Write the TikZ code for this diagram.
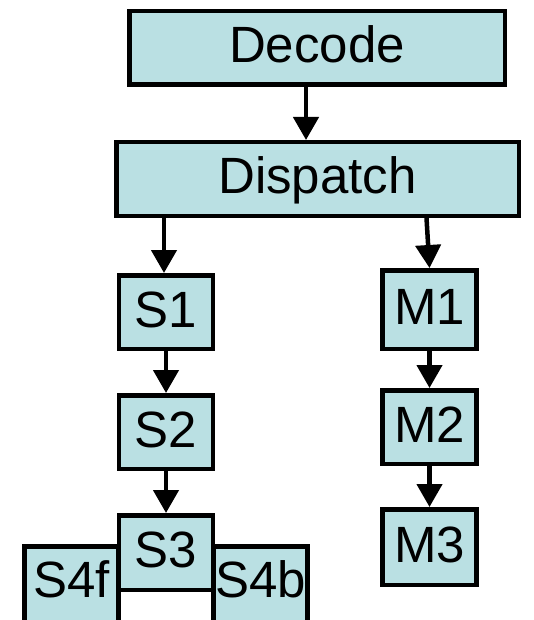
\documentclass[tikz,border=0pt]{standalone}
\usepackage{fontspec}
\setmainfont{Liberation Sans}
\usetikzlibrary{arrows.meta}
\definecolor{boxfill}{HTML}{BAE0E3}
\begin{document}
\begin{tikzpicture}[x=1pt,y=1pt,
  stage/.style={draw=black, fill=boxfill, line width=4.5pt, inner sep=0pt,
    text height=30pt, text depth=0pt, font=\fontsize{51}{60}\selectfont,
    minimum width=94pt, minimum height=73.5pt},
  flow/.style={line width=4.5pt, -{Triangle[width=25pt,length=23pt]}}]
\clip (0,0) rectangle (533,-620);
\fill[white] (0,0) rectangle (533,-620);

% front end
\node[stage, minimum width=375.5pt] (Decode) at (317,-48) {Decode};
\node[stage, minimum width=402.5pt] (Dispatch) at (317.5,-179) {Dispatch};

% scalar pipe
\node[stage] (S1) at (166,-312) {S1};
\node[stage] (S2) at (166,-432) {S2};
\node[stage, minimum height=74.5pt] (S3) at (166,-552.5) {S3};
% the two back-end stages run past the lower edge
\node[stage, anchor=base, text height=43pt, text depth=40.3pt, minimum height=100pt] (S4f) at (71.5,-597.6) {S4f};
\node[stage, anchor=base, text height=43pt, text depth=40.3pt, minimum height=100pt] (S4b) at (260.5,-597.6) {S4b};

% memory pipe
\node[stage, minimum height=78.5pt] (M1) at (429.5,-309.5) {M1};
\node[stage] (M2) at (429.5,-427) {M2};
\node[stage, minimum height=75.5pt] (M3) at (429.5,-547) {M3};

% connectors
\draw[flow] ([xshift=-11pt]Decode.south) -- ([xshift=-11.5pt]Dispatch.north);
\draw[flow] ([xshift=-2pt]Dispatch.south -| S1.north) -- ([xshift=-2pt]S1.north);
\draw[flow] ([xshift=-3pt]Dispatch.south -| M1.north) -- (M1.north);
\draw[flow] (S1) -- (S2);
\draw[flow] (S2) -- (S3);
\draw[flow] (M1) -- (M2);
\draw[flow] (M2) -- (M3);
\end{tikzpicture}
\end{document}
